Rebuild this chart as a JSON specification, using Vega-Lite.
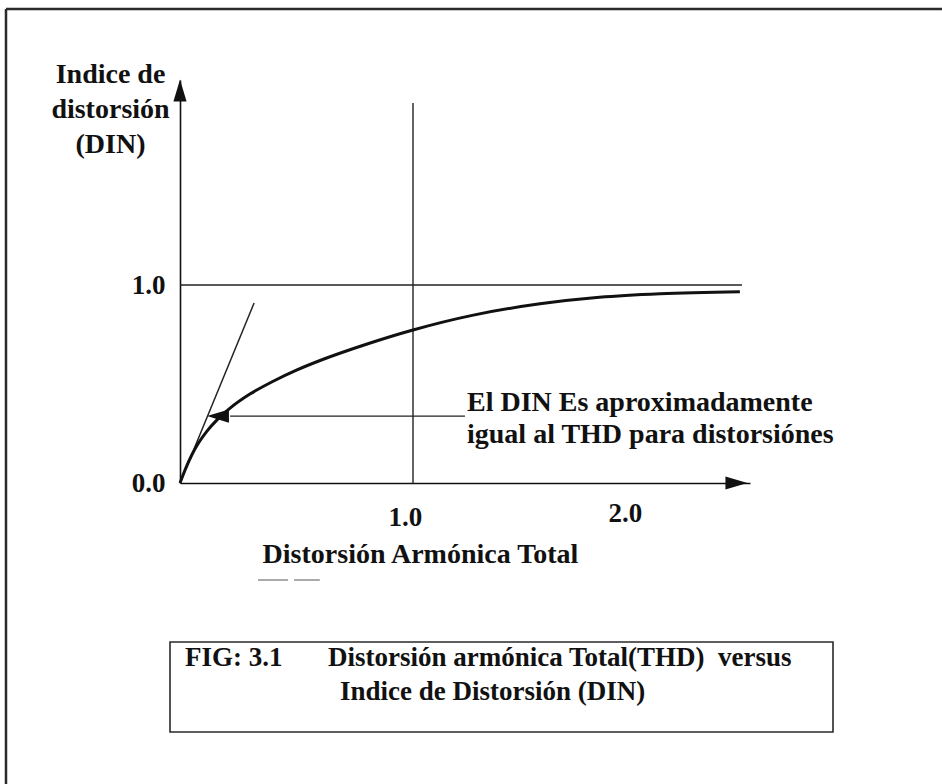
{
  "$schema": "https://vega.github.io/schema/vega-lite/v6.json",
  "width": 570,
  "height": 403,
  "autosize": {"type": "none"},
  "padding": {"left": 180, "top": 80, "right": 192, "bottom": 301},
  "background": "white",
  "config": {
    "view": {"stroke": null},
    "font": "Liberation Serif",
    "axis": {"grid": false, "ticks": false, "tickSize": 0, "domainColor": "#111", "domainWidth": 1.6,
             "labelFont": "Liberation Serif", "labelFontWeight": "bold", "labelFontSize": 27, "labelColor": "#111",
             "titleFont": "Liberation Serif", "titleFontWeight": "bold", "titleFontSize": 28, "titleColor": "#111"}
  },
  "datasets": {
    "curve": [
      {"x": 0.0, "y": 0.0},
      {"x": 0.025, "y": 0.075},
      {"x": 0.05, "y": 0.14},
      {"x": 0.08, "y": 0.203},
      {"x": 0.115, "y": 0.261},
      {"x": 0.16, "y": 0.32},
      {"x": 0.215, "y": 0.378},
      {"x": 0.3, "y": 0.449},
      {"x": 0.4, "y": 0.514},
      {"x": 0.5, "y": 0.57},
      {"x": 0.615, "y": 0.625},
      {"x": 0.8, "y": 0.701},
      {"x": 1.0, "y": 0.773},
      {"x": 1.259, "y": 0.848},
      {"x": 1.545, "y": 0.905},
      {"x": 1.8, "y": 0.938},
      {"x": 2.06, "y": 0.956},
      {"x": 2.403, "y": 0.966}
    ],
    "tangent": [
      {"x": 0.0, "y": 0.0},
      {"x": 0.318, "y": 0.909}
    ],
    "guides": [
      {"name": "unity", "x": 0.0, "x2": 2.412, "y": 1.0, "y2": 1.0},
      {"name": "thd1", "x": 1.0, "x2": 1.0, "y": 0.0, "y2": 1.919},
      {"name": "pointer", "x": 0.215, "x2": 1.223, "y": 0.338, "y2": 0.338}
    ],
    "frame": [
      {"name": "left", "x": -0.7468, "x2": -0.7468, "y": 2.394, "y2": -1.5202},
      {"name": "top", "x": -0.7468, "x2": 3.2704, "y": 2.394, "y2": 2.394}
    ],
    "smudge": [
      {"x": 0.335, "x2": 0.6, "y": -0.49, "y2": -0.49}
    ],
    "arrows": [
      {"dir": "up", "x": 0.0, "y": 1.982},
      {"dir": "right", "x": 2.388, "y": 0.0},
      {"dir": "left", "x": 0.163, "y": 0.338}
    ],
    "box": [
      {"x": -0.0429, "x2": 2.8026, "y": -0.803, "y2": -1.2576}
    ],
    "note": [
      {"text": "El DIN Es aproximadamente", "x": 1.2318, "y": 0.3636},
      {"text": "igual al THD para distorsiónes", "x": 1.2318, "y": 0.202}
    ],
    "caption": [
      {"text": "FIG: 3.1", "x": 0.0215, "y": -0.8838},
      {"text": "Distorsión armónica Total(THD)\u00a0 versus", "x": 0.6352, "y": -0.8838},
      {"text": "Indice de Distorsión (DIN)", "x": 0.6867, "y": -1.0556}
    ]
  },
  "encoding": {
    "x": {"field": "x", "type": "quantitative",
          "scale": {"domain": [0, 2.4464], "nice": false, "zero": false},
          "axis": {"values": [1, 2], "format": ".1f", "labelBaseline": "middle",
                   "labelPadding": {"condition": {"test": "datum.value == 2", "value": 30}, "value": 34},
                   "labelOffset": {"condition": {"test": "datum.value == 2", "value": -21}, "value": -8},
                   "title": "Distorsión Armónica Total", "titleAnchor": null, "titleAlign": "center",
                   "titleX": 240, "titleY": 79, "titleBaseline": "alphabetic"}},
    "y": {"field": "y", "type": "quantitative",
          "scale": {"domain": [0, 2.0354], "nice": false, "zero": false},
          "axis": {"values": [0, 1], "format": ".1f", "labelBaseline": "middle", "labelPadding": 15,
                   "title": ["Indice de", "distorsión", "(DIN)"], "titleAngle": 0, "titleAlign": "center",
                   "titleBaseline": "top", "titleX": -70, "titleY": -20, "titleLineHeight": 35, "titleAnchor": null}}
  },
  "layer": [
    {
      "data": {"name": "frame"},
      "mark": {"type": "rule", "stroke": "#2a2a2a", "strokeWidth": 2.5},
      "encoding": {"x2": {"field": "x2"}, "y2": {"field": "y2"}}
    },
    {
      "data": {"name": "smudge"},
      "mark": {"type": "rule", "stroke": "#aaa", "strokeWidth": 2, "strokeDash": [30, 6]},
      "encoding": {"x2": {"field": "x2"}, "y2": {"field": "y2"}}
    },
    {
      "data": {"name": "box"},
      "mark": {"type": "rect", "fill": null, "fillOpacity": 0, "stroke": "#2a2a2a", "strokeWidth": 1.6},
      "encoding": {"x2": {"field": "x2"}, "y2": {"field": "y2"}}
    },
    {
      "data": {"name": "guides"},
      "mark": {"type": "rule", "stroke": "#222", "strokeWidth": 1.4},
      "encoding": {"x2": {"field": "x2"}, "y2": {"field": "y2"}}
    },
    {
      "data": {"name": "tangent"},
      "mark": {"type": "line", "stroke": "#222", "strokeWidth": 1.5},
      "encoding": {}
    },
    {
      "data": {"name": "curve"},
      "mark": {"type": "line", "stroke": "#111", "strokeWidth": 3, "interpolate": "monotone"},
      "encoding": {}
    },
    {
      "data": {"name": "arrows"},
      "mark": {"type": "point", "filled": true, "color": "#111", "opacity": 1, "size": 480},
      "encoding": {
        "shape": {"field": "dir", "type": "nominal", "legend": null,
                  "scale": {"domain": ["up", "right", "left"],
                            "range": ["M0,-1L-0.6,1L0.6,1Z", "M1,0L-1,-0.6L-1,0.6Z", "M-1,0L1,-0.6L1,0.6Z"]}}
      }
    },
    {
      "data": {"name": "note"},
      "mark": {"type": "text", "align": "left", "baseline": "alphabetic", "font": "Liberation Serif",
               "fontWeight": "bold", "fontSize": 28, "color": "#111"},
      "encoding": {"text": {"field": "text"}}
    },
    {
      "data": {"name": "caption"},
      "mark": {"type": "text", "align": "left", "baseline": "middle", "font": "Liberation Serif",
               "fontWeight": "bold", "fontSize": 27, "color": "#111"},
      "encoding": {"text": {"field": "text"}}
    }
  ]
}
